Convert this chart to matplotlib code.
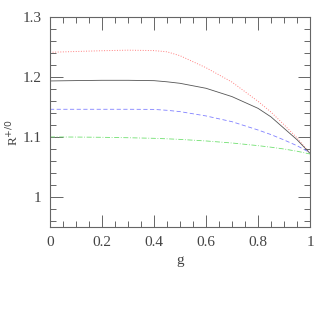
import numpy as np
import matplotlib
matplotlib.use("Agg")
import matplotlib.pyplot as plt
from matplotlib.ticker import MultipleLocator

g = [0.0, 0.1, 0.2, 0.3, 0.4, 0.45, 0.5, 0.6, 0.7, 0.8, 0.85, 0.9, 0.95, 1.0]
r_red = [1.2417, 1.2430, 1.2443, 1.2452, 1.2445, 1.2425, 1.2360, 1.2160, 1.1920, 1.1600, 1.1420, 1.1210, 1.0990, 1.0730]
r_black = [1.1939, 1.1945, 1.1950, 1.1950, 1.1944, 1.1925, 1.1900, 1.1817, 1.1678, 1.1483, 1.1340, 1.1150, 1.0960, 1.0733]
r_blue = [1.1467, 1.1467, 1.1467, 1.1467, 1.1465, 1.1450, 1.1428, 1.1356, 1.1260, 1.1122, 1.1045, 1.0956, 1.0860, 1.0744]
r_green = [1.1006, 1.1004, 1.1000, 1.0993, 1.0983, 1.0975, 1.0965, 1.0939, 1.0905, 1.0861, 1.0835, 1.0805, 1.0768, 1.0722]

plt.rcParams['font.family'] = ['Liberation Serif', 'DejaVu Serif']
txt = '#444444'

fig = plt.figure(figsize=(3.27, 3.27), dpi=100)
ax = fig.add_axes([50/327, (327-227.3)/327, 260/327, 210/327])

ax.plot(g, r_red, ':', color='#ff8080', lw=0.7)
ax.plot(g, r_black, '-', color='#555555', lw=0.6)
ax.plot(g, r_blue, '--', color='#8080ff', lw=0.6, dashes=(5, 3))
ax.plot(g, r_green, '-.', color='#70e070', lw=0.6, dashes=(6, 2, 1, 2))

ax.set_xlim(0, 1)
ax.set_ylim(0.95, 1.3)
ax.xaxis.set_major_locator(MultipleLocator(0.2))
ax.xaxis.set_minor_locator(MultipleLocator(0.05))
ax.yaxis.set_major_locator(MultipleLocator(0.1))
ax.yaxis.set_minor_locator(MultipleLocator(0.02))
ax.set_xticks([0, 0.2, 0.4, 0.6, 0.8, 1.0])
ax.set_xticklabels(['0', '0.2', '0.4', '0.6', '0.8', '1'])
ax.set_yticks([1.0, 1.1, 1.2, 1.3])
ax.set_yticklabels(['1', '1.1', '1.2', '1.3'])

ax.tick_params(which='both', direction='in', top=True, right=True, colors='#666666', labelcolor=txt, labelsize=11, width=0.7)
ax.tick_params(which='major', length=9, pad=6)
ax.tick_params(which='minor', length=4.5)
for s in ax.spines.values():
    s.set_color('#666666')
    s.set_linewidth(0.8)

ax.set_xlabel('g', color=txt, fontsize=11, labelpad=4)
ax.set_ylabel(r'R$^{+/0}$', color=txt, fontsize=9.5)
ax.yaxis.set_label_coords(-0.112, 0.45)

fig.savefig('out.png', dpi=100)
